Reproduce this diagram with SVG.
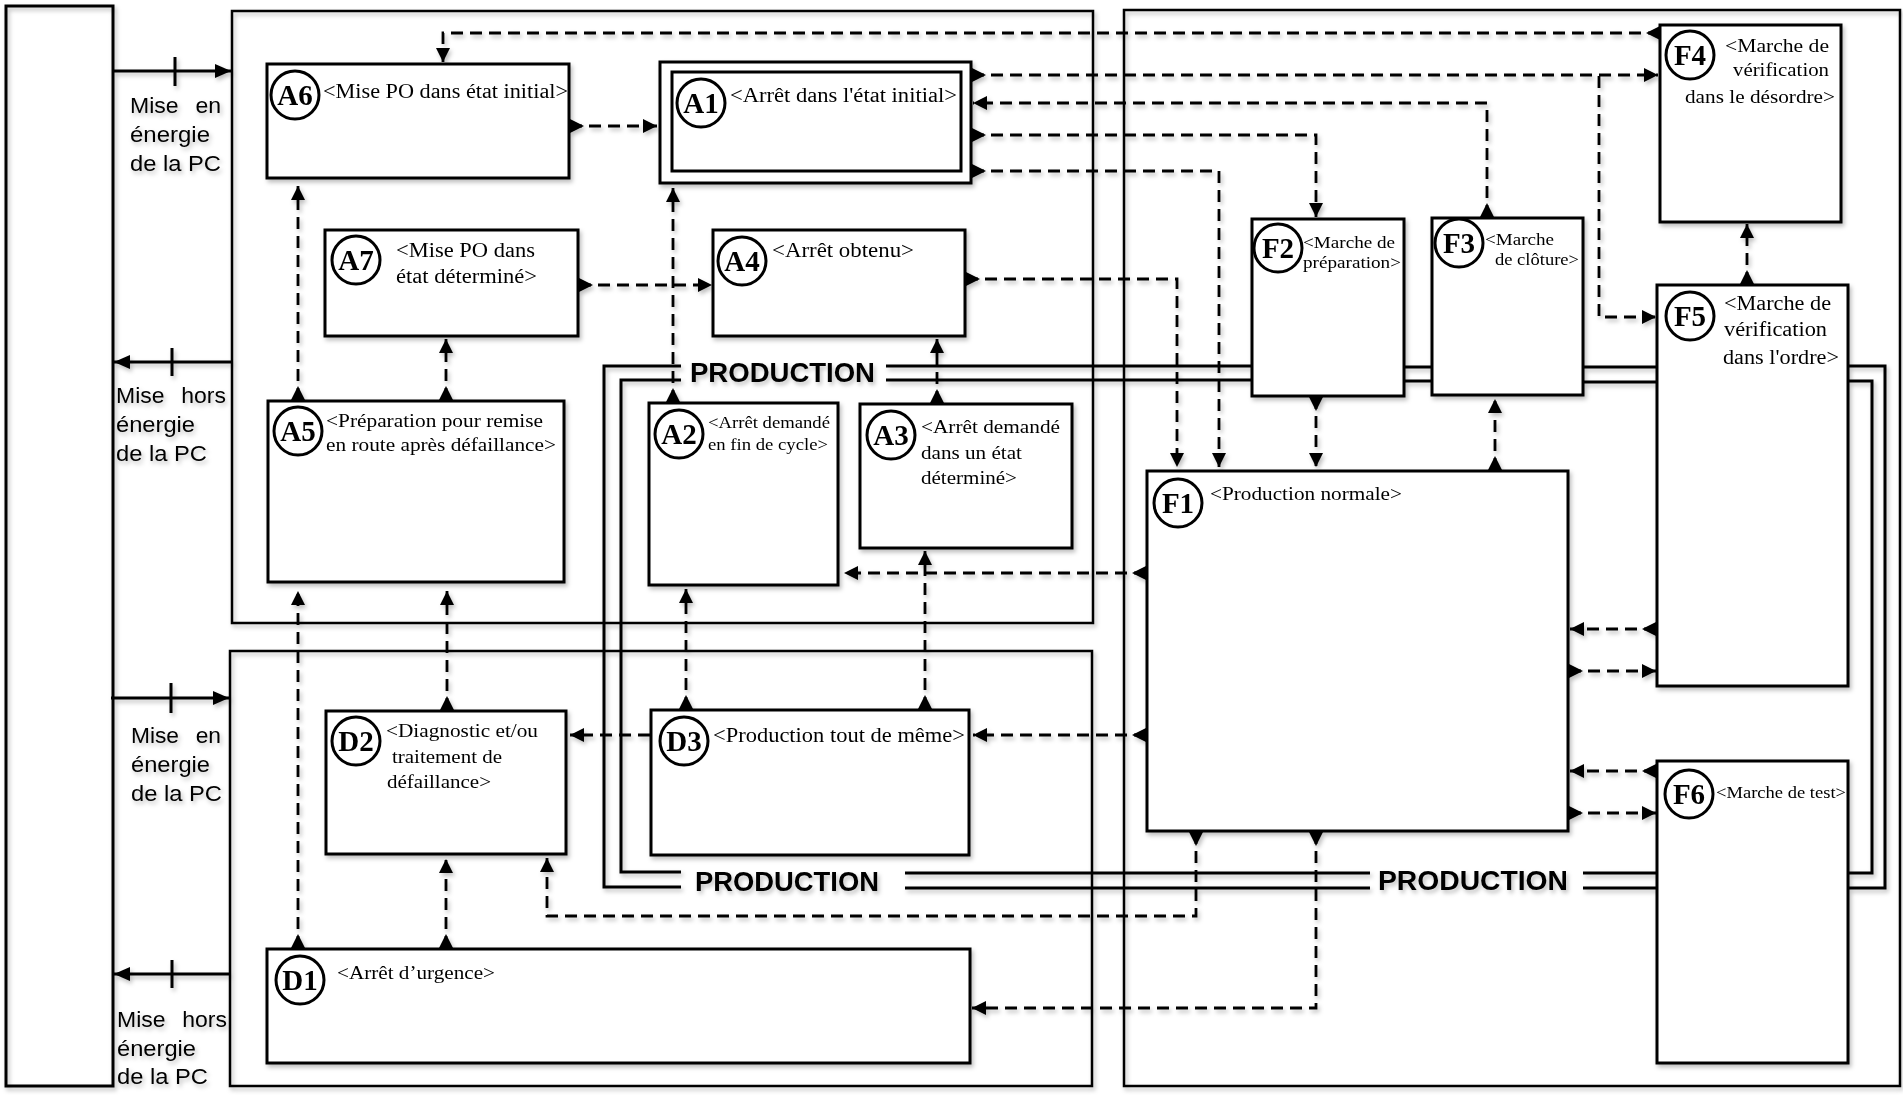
<svg xmlns="http://www.w3.org/2000/svg" width="1903" height="1095" viewBox="0 0 1903 1095">
<defs>
<style>
.zone{fill:none;stroke:#000;stroke-width:2.5}
.node{fill:#fff;stroke:#000;stroke-width:3}
.badge{fill:#fff;stroke:#000;stroke-width:3}
.bl{font-family:"Liberation Serif","Times New Roman",serif;font-weight:bold;font-size:29px;text-anchor:middle;fill:#000}
.lbl{font-family:"Liberation Serif","Times New Roman",serif;font-size:20px;fill:#000}
.side{font-family:"Liberation Sans",Arial,sans-serif;font-size:22px;fill:#000}
.prod{font-family:"Liberation Sans",Arial,sans-serif;font-weight:bold;font-size:27px;fill:#000}
.pl{fill:none;stroke:#000;stroke-width:3}
.d{fill:none;stroke:#000;stroke-width:2.8;stroke-dasharray:12 7}
.pw{fill:none;stroke:#000;stroke-width:3}
</style>
<marker id="h" viewBox="0 0 14 14" refX="14" refY="7" markerWidth="14" markerHeight="14" markerUnits="userSpaceOnUse" orient="auto"><path d="M0,0 L14,7 L0,14 z" fill="#000"/></marker>
<marker id="t" viewBox="0 0 14 14" refX="0" refY="7" markerWidth="14" markerHeight="14" markerUnits="userSpaceOnUse" orient="auto"><path d="M0,0 L14,7 L0,14 z" fill="#000"/></marker>
<marker id="ph" viewBox="0 0 16 14" refX="16" refY="7" markerWidth="16" markerHeight="14" markerUnits="userSpaceOnUse" orient="auto"><path d="M0,0 L16,7 L0,14 z" fill="#000"/></marker>
<filter id="sh" x="-2%" y="-2%" width="104%" height="104%"><feDropShadow dx="2" dy="3" stdDeviation="2" flood-color="#000" flood-opacity="0.25"/></filter>
</defs>
<rect width="1903" height="1095" fill="#fff"/>
<g filter="url(#sh)">
<g id="zones">
<rect id="pc" class="zone" x="6" y="6" width="107" height="1080" style="stroke-width:3"/>
<rect id="zoneA" class="zone" x="232" y="11" width="861" height="612"/>
<rect id="zoneD" class="zone" x="230" y="651" width="862" height="435"/>
<rect id="zoneF" class="zone" x="1124" y="10" width="776" height="1076"/>
</g>
<g id="power">
<path class="pw" d="M113,71 H231" marker-end="url(#ph)"/>
<path class="pw" d="M175,57 V86"/>
<path class="pw" d="M232,362 H114" marker-end="url(#ph)"/>
<path class="pw" d="M172,348 V376"/>
<path class="pw" d="M111,698 H229" marker-end="url(#ph)"/>
<path class="pw" d="M171,683 V713"/>
<path class="pw" d="M230,974 H114" marker-end="url(#ph)"/>
<path class="pw" d="M172,960 V988"/>
<text class="side" x="130" y="113" word-spacing="10" textLength="91" lengthAdjust="spacingAndGlyphs">Mise en</text>
<text class="side" x="130" y="142" textLength="80" lengthAdjust="spacingAndGlyphs">énergie</text>
<text class="side" x="130" y="171" textLength="91" lengthAdjust="spacingAndGlyphs">de la PC</text>
<text class="side" x="116" y="403" word-spacing="10" textLength="110" lengthAdjust="spacingAndGlyphs">Mise hors</text>
<text class="side" x="116" y="432" textLength="79" lengthAdjust="spacingAndGlyphs">énergie</text>
<text class="side" x="116" y="461" textLength="91" lengthAdjust="spacingAndGlyphs">de la PC</text>
<text class="side" x="131" y="743" word-spacing="10" textLength="90" lengthAdjust="spacingAndGlyphs">Mise en</text>
<text class="side" x="131" y="772" textLength="79" lengthAdjust="spacingAndGlyphs">énergie</text>
<text class="side" x="131" y="801" textLength="91" lengthAdjust="spacingAndGlyphs">de la PC</text>
<text class="side" x="117" y="1027" word-spacing="10" textLength="110" lengthAdjust="spacingAndGlyphs">Mise hors</text>
<text class="side" x="117" y="1056" textLength="79" lengthAdjust="spacingAndGlyphs">énergie</text>
<text class="side" x="117" y="1084" textLength="91" lengthAdjust="spacingAndGlyphs">de la PC</text>
</g>
<g id="production">
<path class="pl" d="M681,366 H604 V887 H681"/>
<path class="pl" d="M681,380 H621 V872 H681"/>
<path class="pl" d="M886,366 H1252 M1404,367 H1432 M1583,367 H1657 M1848,366 H1885 V888 H1848 M1657,888 H1583 M1370,888 H905"/>
<path class="pl" d="M886,380 H1252 M1404,381 H1432 M1583,382 H1657 M1848,381 H1872 V873 H1848 M1657,873 H1583 M1370,873 H905"/>
<text class="prod" x="690" y="382" textLength="185" lengthAdjust="spacingAndGlyphs">PRODUCTION</text>
<text class="prod" x="695" y="891" textLength="184" lengthAdjust="spacingAndGlyphs">PRODUCTION</text>
<text class="prod" x="1378" y="890" textLength="190" lengthAdjust="spacingAndGlyphs">PRODUCTION</text>
</g>
<g id="A6"><rect class="node" x="267" y="64" width="302" height="114"/><circle class="badge" cx="295" cy="95" r="24"/><text class="bl" x="295" y="105">A6</text><text class="lbl" x="323" y="98" textLength="245" lengthAdjust="spacingAndGlyphs">&lt;Mise PO dans état initial&gt;</text></g>
<g id="A1"><rect class="node" x="660" y="62" width="311" height="121"/><rect class="node" x="672" y="72" width="289" height="99"/><circle class="badge" cx="701" cy="103" r="24"/><text class="bl" x="701" y="113">A1</text><text class="lbl" x="730" y="102" textLength="227" lengthAdjust="spacingAndGlyphs">&lt;Arrêt dans l'état initial&gt;</text></g>
<g id="A7"><rect class="node" x="325" y="230" width="253" height="106"/><circle class="badge" cx="356" cy="260" r="24"/><text class="bl" x="356" y="270">A7</text><text class="lbl" x="396" y="257" textLength="139" lengthAdjust="spacingAndGlyphs">&lt;Mise PO dans</text><text class="lbl" x="396" y="283" textLength="141" lengthAdjust="spacingAndGlyphs">état déterminé&gt;</text></g>
<g id="A4"><rect class="node" x="713" y="230" width="252" height="106"/><circle class="badge" cx="742" cy="261" r="24"/><text class="bl" x="742" y="271">A4</text><text class="lbl" x="772" y="257" textLength="142" lengthAdjust="spacingAndGlyphs">&lt;Arrêt obtenu&gt;</text></g>
<g id="A5"><rect class="node" x="268" y="401" width="296" height="181"/><circle class="badge" cx="298" cy="431" r="24"/><text class="bl" x="298" y="441">A5</text><text class="lbl" x="326" y="427" style="font-size:19px" textLength="217" lengthAdjust="spacingAndGlyphs">&lt;Préparation pour remise</text><text class="lbl" x="326" y="451" style="font-size:19px" textLength="230" lengthAdjust="spacingAndGlyphs">en route après défaillance&gt;</text></g>
<g id="A2"><rect class="node" x="649" y="403" width="189" height="182"/><circle class="badge" cx="679" cy="434" r="24"/><text class="bl" x="679" y="444">A2</text><text class="lbl" x="708" y="428" style="font-size:16px" textLength="122" lengthAdjust="spacingAndGlyphs">&lt;Arrêt demandé</text><text class="lbl" x="708" y="450" style="font-size:16px" textLength="120" lengthAdjust="spacingAndGlyphs">en fin de cycle&gt;</text></g>
<g id="A3"><rect class="node" x="860" y="404" width="212" height="144"/><circle class="badge" cx="891" cy="435" r="24"/><text class="bl" x="891" y="445">A3</text><text class="lbl" x="921" y="433" style="font-size:19px" textLength="139" lengthAdjust="spacingAndGlyphs">&lt;Arrêt demandé</text><text class="lbl" x="921" y="459" style="font-size:19px" textLength="101" lengthAdjust="spacingAndGlyphs">dans un état</text><text class="lbl" x="921" y="484" style="font-size:19px" textLength="96" lengthAdjust="spacingAndGlyphs">déterminé&gt;</text></g>
<g id="F1"><rect class="node" x="1147" y="471" width="421" height="360"/><circle class="badge" cx="1178" cy="503" r="24"/><text class="bl" x="1178" y="513">F1</text><text class="lbl" x="1210" y="500" style="font-size:19px" textLength="192" lengthAdjust="spacingAndGlyphs">&lt;Production normale&gt;</text></g>
<g id="F2"><rect class="node" x="1252" y="219" width="152" height="177"/><circle class="badge" cx="1278" cy="248" r="24"/><text class="bl" x="1278" y="258">F2</text><text class="lbl" x="1303" y="248" style="font-size:16px" textLength="92" lengthAdjust="spacingAndGlyphs">&lt;Marche de</text><text class="lbl" x="1303" y="268" style="font-size:16px" textLength="98" lengthAdjust="spacingAndGlyphs">préparation&gt;</text></g>
<g id="F3"><rect class="node" x="1432" y="218" width="151" height="177"/><circle class="badge" cx="1459" cy="243" r="24"/><text class="bl" x="1459" y="253">F3</text><text class="lbl" x="1485" y="245" style="font-size:16px" textLength="69" lengthAdjust="spacingAndGlyphs">&lt;Marche</text><text class="lbl" x="1495" y="265" style="font-size:16px" textLength="84" lengthAdjust="spacingAndGlyphs">de clôture&gt;</text></g>
<g id="F4"><rect class="node" x="1660" y="25" width="181" height="197"/><circle class="badge" cx="1690" cy="55" r="24"/><text class="bl" x="1690" y="65">F4</text><text class="lbl" x="1725" y="52" style="font-size:19px" textLength="104" lengthAdjust="spacingAndGlyphs">&lt;Marche de</text><text class="lbl" x="1733" y="76" style="font-size:19px" textLength="96" lengthAdjust="spacingAndGlyphs">vérification</text><text class="lbl" x="1685" y="103" style="font-size:19px" textLength="150" lengthAdjust="spacingAndGlyphs">dans le désordre&gt;</text></g>
<g id="F5"><rect class="node" x="1657" y="285" width="191" height="401"/><circle class="badge" cx="1690" cy="316" r="24"/><text class="bl" x="1690" y="326">F5</text><text class="lbl" x="1724" y="310" textLength="107" lengthAdjust="spacingAndGlyphs">&lt;Marche de</text><text class="lbl" x="1724" y="336" textLength="103" lengthAdjust="spacingAndGlyphs">vérification</text><text class="lbl" x="1723" y="364" textLength="116" lengthAdjust="spacingAndGlyphs">dans l'ordre&gt;</text></g>
<g id="F6"><rect class="node" x="1657" y="761" width="191" height="302"/><circle class="badge" cx="1689" cy="794" r="24"/><text class="bl" x="1689" y="804">F6</text><text class="lbl" x="1716" y="798" style="font-size:17px" textLength="130" lengthAdjust="spacingAndGlyphs">&lt;Marche de test&gt;</text></g>
<g id="D2"><rect class="node" x="326" y="711" width="240" height="143"/><circle class="badge" cx="356" cy="741" r="24"/><text class="bl" x="356" y="751">D2</text><text class="lbl" x="386" y="737" style="font-size:19px" textLength="152" lengthAdjust="spacingAndGlyphs">&lt;Diagnostic et/ou</text><text class="lbl" x="392" y="763" style="font-size:19px" textLength="110" lengthAdjust="spacingAndGlyphs">traitement de</text><text class="lbl" x="387" y="788" style="font-size:19px" textLength="104" lengthAdjust="spacingAndGlyphs">défaillance&gt;</text></g>
<g id="D3"><rect class="node" x="651" y="710" width="318" height="145"/><circle class="badge" cx="684" cy="741" r="24"/><text class="bl" x="684" y="751">D3</text><text class="lbl" x="713" y="742" textLength="252" lengthAdjust="spacingAndGlyphs">&lt;Production tout de même&gt;</text></g>
<g id="D1"><rect class="node" x="267" y="949" width="703" height="114"/><circle class="badge" cx="300" cy="980" r="24"/><text class="bl" x="300" y="990">D1</text><text class="lbl" x="337" y="979" style="font-size:19px" textLength="158" lengthAdjust="spacingAndGlyphs">&lt;Arrêt d’urgence&gt;</text></g>
<g id="connectors">
<path class="d" d="M1660,33 H443 V62" marker-start="url(#t)" marker-end="url(#h)"/>
<path class="d" d="M570,126 H657" marker-start="url(#t)" marker-end="url(#h)"/>
<path class="d" d="M579,285 H712" marker-start="url(#t)" marker-end="url(#h)"/>
<path class="d" d="M298,400 V186" marker-start="url(#t)" marker-end="url(#h)"/>
<path class="d" d="M446,400 V339" marker-start="url(#t)" marker-end="url(#h)"/>
<path class="d" d="M673,402 V188" marker-start="url(#t)" marker-end="url(#h)"/>
<path class="d" d="M937,403 V339" marker-start="url(#t)" marker-end="url(#h)"/>
<path class="d" d="M972,75 H1658" marker-start="url(#t)" marker-end="url(#h)"/>
<path class="d" d="M1599,76 V317 H1656" marker-end="url(#h)"/>
<path class="d" d="M1487,217 V103 H973" marker-start="url(#t)" marker-end="url(#h)"/>
<path class="d" d="M972,135 H1316 V217" marker-start="url(#t)" marker-end="url(#h)"/>
<path class="d" d="M972,171 H1219 V467" marker-start="url(#t)" marker-end="url(#h)"/>
<path class="d" d="M966,279 H1177 V467" marker-start="url(#t)" marker-end="url(#h)"/>
<path class="d" d="M1316,397 V467" marker-start="url(#t)" marker-end="url(#h)"/>
<path class="d" d="M1495,470 V399" marker-start="url(#t)" marker-end="url(#h)"/>
<path class="d" d="M1747,284 V224" marker-start="url(#t)" marker-end="url(#h)"/>
<path class="d" d="M1146,573 H844" marker-start="url(#t)" marker-end="url(#h)"/>
<path class="d" d="M925,709 V551" marker-start="url(#t)" marker-end="url(#h)"/>
<path class="d" d="M686,709 V589" marker-start="url(#t)" marker-end="url(#h)"/>
<path class="d" d="M1146,735 H973" marker-start="url(#t)" marker-end="url(#h)"/>
<path class="d" d="M650,735 H570" marker-end="url(#h)"/>
<path class="d" d="M447,710 V591" marker-start="url(#t)" marker-end="url(#h)"/>
<path class="d" d="M298,948 V591" marker-start="url(#t)" marker-end="url(#h)"/>
<path class="d" d="M446,948 V859" marker-start="url(#t)" marker-end="url(#h)"/>
<path class="d" d="M1196,832 V916 H547 V858" marker-start="url(#t)" marker-end="url(#h)"/>
<path class="d" d="M1316,832 V1008 H972" marker-start="url(#t)" marker-end="url(#h)"/>
<path class="d" d="M1656,629 H1570" marker-start="url(#t)" marker-end="url(#h)"/>
<path class="d" d="M1569,671 H1656" marker-start="url(#t)" marker-end="url(#h)"/>
<path class="d" d="M1656,771 H1570" marker-start="url(#t)" marker-end="url(#h)"/>
<path class="d" d="M1569,813 H1656" marker-start="url(#t)" marker-end="url(#h)"/>
</g>
</g>
</svg>
